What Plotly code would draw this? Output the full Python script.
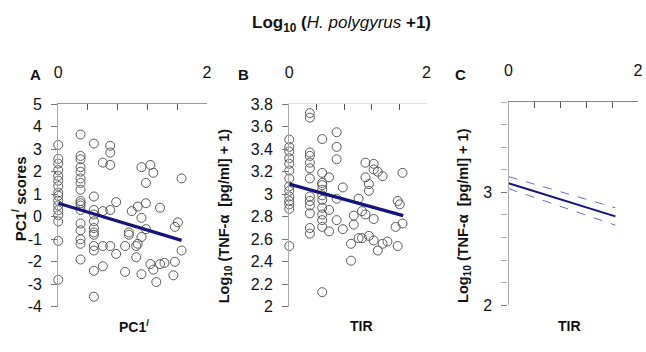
import plotly.graph_objects as go

W, H = 646, 352
FONT = "Liberation Sans, Arial, sans-serif"

# ---------------- Panel A data (PC1' scores vs log10(H. polygyrus + 1))
a_x = ([0.0]*16 + [0.30]*17 + [0.48]*12 + [0.60]*4 + [0.70]*5 + [0.78]*2
       + [0.90]*2 + [0.95]*2 + [0.99] + [1.05]*2 + [1.07]*2 + [1.12]*4 + [1.18]*3
       + [1.24]*2 + [1.28]*2 + [1.32] + [1.37]*2 + [1.43] + [1.55] + [1.57]*2
       + [1.61] + [1.66]*2)
a_y = ([3.19, 2.57, 2.36, 2.07, 1.81, 1.6, 1.36, 1.07, 0.93, 0.71, 0.5, 0.29, 0.07, -0.21, -1.07, -2.8]
       + [3.65, 2.7, 2.55, 2.2, 2.0, 1.7, 1.5, 1.2, 0.7, 0.6, 0.5, 0.3, -0.3, -0.6, -1.0, -1.2, -1.9]
       + [3.25, 0.9, 0.3, 0.1, -0.2, -0.5, -0.7, -0.8, -1.3, -1.5, -2.4, -3.55]
       + [2.4, 0.25, -1.3, -2.2]
       + [3.15, 2.85, 2.3, 0.3, -1.3]
       + [0.65, -1.65]
       + [-1.3, -2.45]
       + [-0.7, -0.8]
       + [0.25]
       + [-1.8, -1.3]
       + [0.45, -1.2]
       + [2.2, -0.05, -0.9, -2.55]
       + [1.5, 0.6, -0.55]
       + [2.3, -2.1]
       + [1.95, -2.35]
       + [-2.9]
       + [0.4, -2.1]
       + [-2.05]
       + [-2.6]
       + [-2.0, -0.45]
       + [-0.25]
       + [1.7, -1.5])
a_fit_x = [0.0, 1.66]
a_fit_y = [0.6, -1.05]

# ---------------- Panel B data (log10 TNF-alpha vs TIR)
b_x = ([0.0]*14 + [0.30]*13 + [0.48]*12 + [0.58]*3 + [0.69]*5 + [0.78]*2
       + [0.90]*2 + [0.94]*2 + [1.01]*2 + [1.06]*2 + [1.11]*3 + [1.16]*3
       + [1.23]*4 + [1.29]*2 + [1.36]*2 + [1.43] + [1.55] + [1.58]*2 + [1.61] + [1.65]*2)
b_y = ([3.485, 3.42, 3.38, 3.32, 3.27, 3.21, 3.14, 3.07, 3.03, 2.98, 2.94, 2.91, 2.87, 2.54]
       + [3.72, 3.68, 3.37, 3.34, 3.28, 3.23, 3.14, 2.98, 2.94, 2.9, 2.83, 2.70, 2.65]
       + [3.49, 3.19, 3.1, 3.08, 3.04, 2.99, 2.95, 2.88, 2.82, 2.77, 2.71, 2.13]
       + [3.15, 2.86, 2.67]
       + [3.55, 3.42, 3.31, 2.96, 2.77]
       + [3.06, 2.69]
       + [2.56, 2.41]
       + [2.81, 2.73]
       + [2.96, 2.61]
       + [2.85, 2.61]
       + [3.28, 3.15, 2.82]
       + [3.09, 3.03, 2.63]
       + [3.27, 3.22, 2.78, 2.59]
       + [3.2, 2.5]
       + [3.16, 2.56]
       + [2.58]
       + [2.71]
       + [2.94, 2.54]
       + [2.91]
       + [3.19, 2.74])
b_fit_x = [0.0, 1.66]
b_fit_y = [3.09, 2.81]

# ---------------- Panel C data (predicted line with confidence band)
c_x = [0.0, 1.65]
c_fit = [3.082, 2.788]
c_upper = [3.14, 2.864]
c_lower = [3.034, 2.71]

x_ticks = [0, 2]
x_ticktext = ["0", "2"]
a_yticks = [-4, -3, -2, -1, 0, 1, 2, 3, 4, 5]
b_yticks = [2, 2.2, 2.4, 2.6, 2.8, 3, 3.2, 3.4, 3.6, 3.8]
b_yticktext = ["2", "2.2", "2.4", "2.6", "2.8", "3", "3.2", "3.4", "3.6", "3.8"]
c_yticks = [2, 3]
c_yticktext = ["2", "3"]

NAVY = "#14147a"
marker = dict(symbol="circle-open", size=9, color="#5a5a5a", line=dict(width=1))

fig = go.Figure()
fig.add_trace(go.Scatter(x=a_x, y=a_y, mode="markers", marker=marker,
                         xaxis="x", yaxis="y", cliponaxis=False, showlegend=False))
fig.add_trace(go.Scatter(x=a_fit_x, y=a_fit_y, mode="lines", line=dict(color=NAVY, width=3.2),
                         xaxis="x", yaxis="y", showlegend=False))
fig.add_trace(go.Scatter(x=b_x, y=b_y, mode="markers", marker=marker,
                         xaxis="x2", yaxis="y2", cliponaxis=False, showlegend=False))
fig.add_trace(go.Scatter(x=b_fit_x, y=b_fit_y, mode="lines", line=dict(color=NAVY, width=3.2),
                         xaxis="x2", yaxis="y2", showlegend=False))
fig.add_trace(go.Scatter(x=c_x, y=c_upper, mode="lines", line=dict(color="#6a6ac8", width=1, dash="dash"),
                         xaxis="x3", yaxis="y3", showlegend=False))
fig.add_trace(go.Scatter(x=c_x, y=c_lower, mode="lines", line=dict(color="#6a6ac8", width=1, dash="dash"),
                         xaxis="x3", yaxis="y3", showlegend=False))
fig.add_trace(go.Scatter(x=c_x, y=c_fit, mode="lines", line=dict(color=NAVY, width=2),
                         xaxis="x3", yaxis="y3", showlegend=False))

tickfont = dict(family=FONT, size=16, color="#111")

def xax(dom, anchor, linecolor):
    return dict(domain=dom, anchor=anchor, side="top", range=[0, 2], tickvals=x_ticks,
                ticktext=x_ticktext, ticks="inside", ticklen=6, tickcolor="#555",
                minor=dict(tick0=0, dtick=0.4, ticks="inside", ticklen=6, tickcolor="#555"),
                showline=True, linecolor=linecolor, linewidth=1, showgrid=False,
                zeroline=False, tickfont=tickfont, ticklabelstandoff=19)

def yax(dom, anchor, rng, tv, tt, minor=None):
    d = dict(domain=dom, anchor=anchor, range=rng, tickvals=tv, ticktext=tt,
             ticks="outside", ticklen=6, tickcolor="#777", showline=True,
             linecolor="#aaa", linewidth=1.2, showgrid=False, zeroline=False,
             tickfont=tickfont, ticklabelstandoff=6)
    if minor:
        d["minor"] = minor
    return d

ydom = [1 - 314 / H, 1 - 101 / H]
fig.update_layout(
    width=W, height=H, margin=dict(l=0, r=0, t=0, b=0),
    paper_bgcolor="white", plot_bgcolor="white",
    xaxis=xax([55 / W, 205.7 / W], "y", "#999"),
    yaxis=yax(ydom, "x", [-4, 5], a_yticks, [str(v) for v in a_yticks]),
    xaxis2=xax([289.3 / W, 428.5 / W], "y2", "#ddd"),
    yaxis2=yax(ydom, "x2", [2, 3.8], b_yticks, b_yticktext),
    xaxis3=xax([511.7 / W, 643 / W], "y3", "#888"),
    yaxis3=yax([1 - 312.3 / H, 1 - 99 / H], "x3", [2, 3.8], c_yticks, c_yticktext,
               minor=dict(tick0=2, dtick=0.2, ticks="outside", ticklen=6, tickcolor="#aaa")),
)

def ann(text, px, py, size=14, angle=0, xanchor="center"):
    fig.add_annotation(text=text, x=px / W, y=1 - py / H, xref="paper", yref="paper",
                       showarrow=False, textangle=angle, xanchor=xanchor, yanchor="middle",
                       font=dict(family=FONT, size=size, color="#111"))

ann("<b>Log<sub>10</sub> (</b><i>H. polygyrus</i><b> +1)</b>", 342, 17, 17)
ann("<b>A</b>", 32, 70, 15)
ann("<b>B</b>", 243, 70, 15)
ann("<b>C</b>", 463, 70, 15)
ann("<b>PC1<sup>/</sup> scores</b>", 15, 200, 15, angle=-90)
ann("<b>Log<sub>10</sub> (TNF-α  [pg/ml] + 1)</b>", 225, 218, 14.5, angle=-90)
ann("<b>Log<sub>10</sub> (TNF-α  [pg/ml] + 1)</b>", 467, 218, 14.5, angle=-90)
ann("<b>PC1<sup>/</sup></b>", 132, 334, 14)
ann("<b>TIR</b>", 363, 334, 14)
ann("<b>TIR</b>", 573, 334, 14)

fig.write_html("out.html", config={"displayModeBar": False},
               post_script="document.body.style.margin='0';")
